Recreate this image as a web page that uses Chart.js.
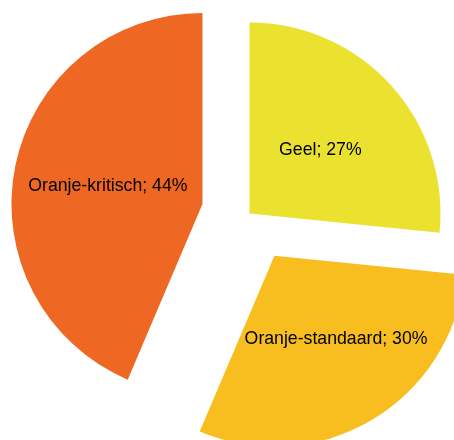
<!DOCTYPE html>
<html>
<head>
<meta charset="utf-8">
<script src="https://cdn.jsdelivr.net/npm/chart.js@4/dist/chart.umd.min.js"></script>
<style>
  html, body { margin: 0; padding: 0; background: #fff; }
  #wrap { position: relative; width: 454px; height: 440px; }
</style>
</head>
<body>
<div id="wrap"><canvas id="chart"></canvas></div>
<script>
const categories = ["Geel", "Oranje-standaard", "Oranje-kritisch"];
const shares = [26.6, 29.8, 43.6];
const colors = ["#ebe22f", "#f8bd1e", "#ef6823"];

// how far each slice is pulled out from the centre (px)
const explode = [0, 49, 48];
// small nudge of the label text (px)
const labelNudge = [0, 13, -1];

const explodePlugin = {
  id: "explode",
  afterDatasetsUpdate(chart) {
    const meta = chart.getDatasetMeta(0);
    meta.data.forEach((arc, i) => {
      const d = explode[i] || 0;
      const mid = (arc.startAngle + arc.endAngle) / 2;
      arc.x += Math.cos(mid) * d;
      arc.y += Math.sin(mid) * d;
    });
  },
};

const sliceLabels = {
  id: "sliceLabels",
  afterDatasetsDraw(chart) {
    const { ctx } = chart;
    const meta = chart.getDatasetMeta(0);
    const total = shares.reduce((a, b) => a + b, 0);
    ctx.save();
    ctx.font = '17.7px "Liberation Sans", Arial, sans-serif';
    ctx.fillStyle = "#000";
    ctx.textAlign = "center";
    ctx.textBaseline = "middle";
    meta.data.forEach((arc, i) => {
      const p = arc.tooltipPosition();
      const pct = Math.round((shares[i] / total) * 100);
      ctx.fillText(`${categories[i]}; ${pct}%`, p.x + labelNudge[i], p.y + 1);
    });
    ctx.restore();
  },
};

new Chart(document.getElementById("chart"), {
  type: "pie",
  data: {
    labels: categories,
    datasets: [
      {
        data: shares,
        backgroundColor: colors,
        borderWidth: 0,
        radius: 191,
      },
    ],
  },
  options: {
    responsive: true,
    maintainAspectRatio: false,
    animation: false,
    layout: { padding: { left: 45, right: 0, top: 0, bottom: 13 } },
    plugins: {
      legend: { display: false },
      tooltip: { enabled: false },
    },
  },
  plugins: [explodePlugin, sliceLabels],
});
</script>
</body>
</html>
